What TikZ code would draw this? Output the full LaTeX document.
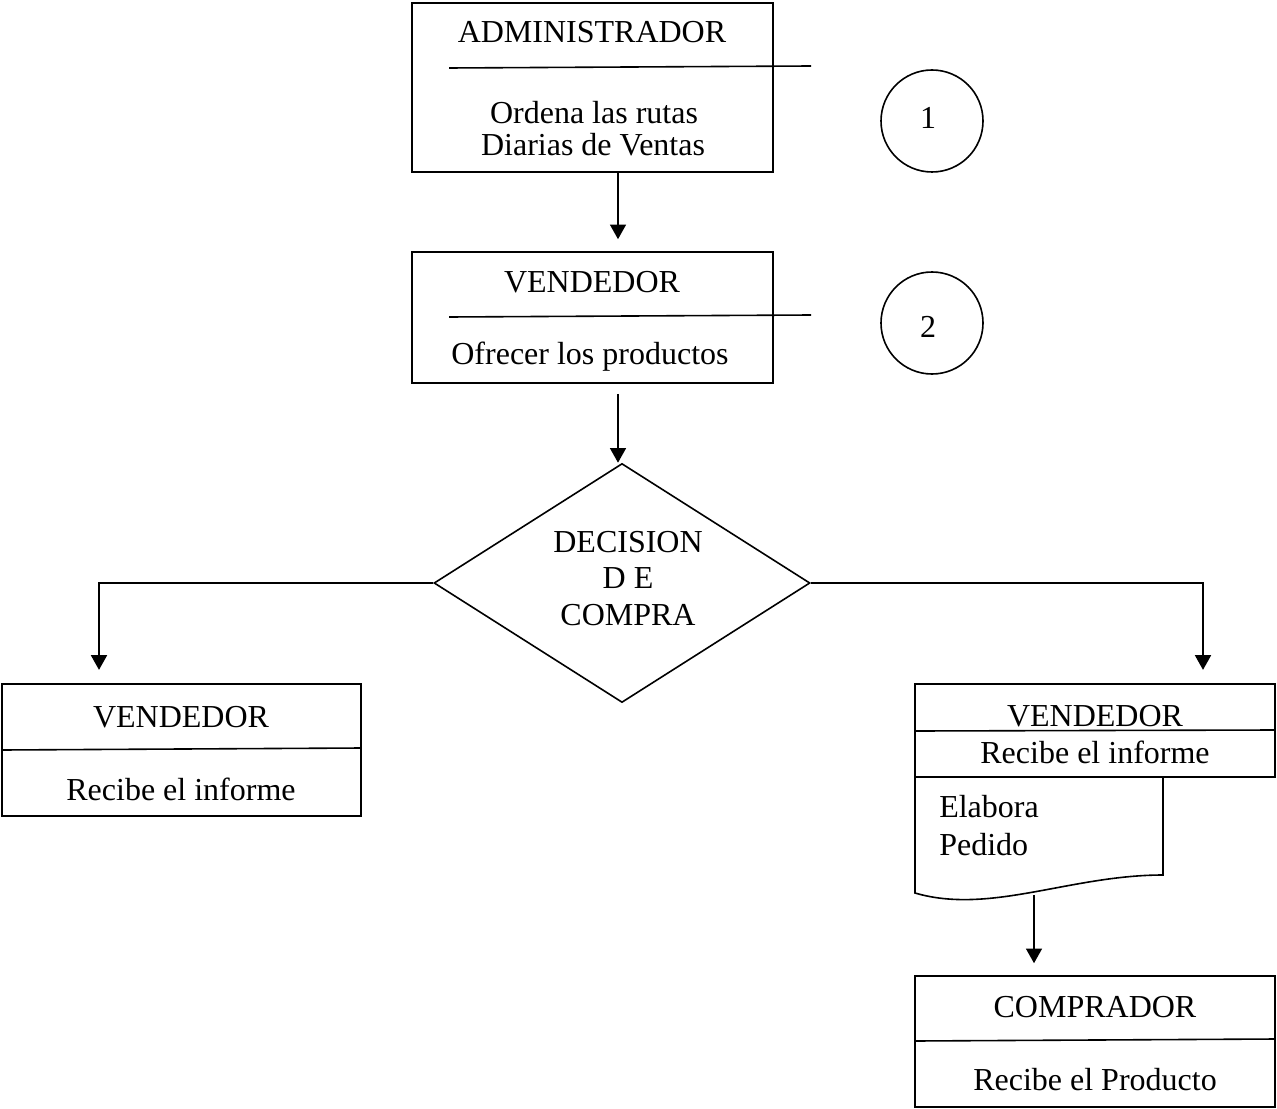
\documentclass[tikz,border=0pt]{standalone}
\usepackage{fontspec}
\setmainfont{Liberation Serif}
\usetikzlibrary{arrows.meta,shapes.geometric}
\begin{document}
\begin{tikzpicture}[x=0.75pt,y=-0.75pt,
  every node/.style={font=\fontsize{24}{28}\selectfont},
  lbl/.style={anchor=base,inner sep=0pt},
  lbll/.style={anchor=base west,inner sep=0pt},
  boxn/.style={draw,line width=1.2pt,rectangle,inner sep=0pt},
  circn/.style={draw,line width=1.2pt,circle,minimum size=76.5pt,inner sep=0pt},
  rule/.style={line width=1.2pt},
  arr/.style={line width=1.2pt,-{Triangle[length=11pt,width=12pt]}}]
\useasboundingbox (0,0) rectangle (1277,1109);
% boxes
\node[boxn,minimum width=270.75pt,minimum height=126.75pt] (admin) at (592.5,87.5) {};
\node[boxn,minimum width=270.75pt,minimum height=98.25pt] (vend1) at (592.5,317.5) {};
\node[boxn,minimum width=269.25pt,minimum height=99pt] (vendL) at (181.5,750) {};
\node[boxn,minimum width=270pt,minimum height=69.75pt] (vendR) at (1095,730.5) {};
\node[boxn,minimum width=270pt,minimum height=98.25pt] (comp) at (1095,1041.5) {};
\node[draw,line width=1.2pt,diamond,minimum width=282pt,minimum height=179.25pt,inner sep=0pt] (dec) at (622,583) {};
\node[circn] (c1) at (932,121) {};
\node[circn] (c2) at (932,323) {};
% dividers
\coordinate (d1a) at (449,68); \coordinate (d1b) at (811,66);
\coordinate (d2a) at (449,317); \coordinate (d2b) at (811,315);
\draw[rule] (d1a) -- (d1b);
\draw[rule] (d2a) -- (d2b);
\draw[rule] (vendL.west |- 0,750) -- (vendL.east |- 0,748);
\draw[rule] (vendR.west |- 0,731) -- (vendR.east |- 0,730);
\draw[rule] (comp.west |- 0,1041) -- (comp.east |- 0,1039);
% document shape
\coordinate (docb) at (1034,895);
\draw[rule] (915,777) -- (1163,777) -- (1163,875)
  .. controls (1070,875) and (990,915) .. (915,893) -- cycle;
% texts
\node[lbl] (t1) at (592,43) {ADMINISTRADOR};
\node[lbl] (t2) at (594,124) {Ordena las rutas};
\node[lbl] (t3) at (593,156) {Diarias de Ventas};
\node[lbl] (t4) at (592,292) {VENDEDOR};
\node[lbl] (t5) at (590,364) {Ofrecer los productos};
\node[lbl] (n1) at (928,129) {1};
\node[lbl] (n2) at (928,337) {2};
\node[lbl] (t6) at (628,552) {DECISION};
\node[lbl] (t7) at (628,588) {D E};
\node[lbl] (t8) at (628,625) {COMPRA};
\node[lbl] (t9) at (181,727) {VENDEDOR};
\node[lbl] (t10) at (181,800) {Recibe el informe};
\node[lbl] (t11) at (1095,726) {VENDEDOR};
\node[lbl] (t12) at (1095,763) {Recibe el informe};
\node[lbll] (t13) at (939,817) {Elabora};
\node[lbll] (t14) at (939,855) {Pedido};
\node[lbl] (t15) at (1095,1017) {COMPRADOR};
\node[lbl] (t16) at (1095,1090) {Recibe el Producto};
% connectors
\coordinate (a1) at (618,0);
\coordinate (jl) at (99,583);
\coordinate (jr) at (1203,583);
\draw[arr] (admin.south -| a1) -- ([yshift=9pt]vend1.north -| a1);
\draw[arr] ([yshift=-7.5pt]vend1.south -| a1) -- (dec.north -| a1);
\draw[arr] (dec.west) -- (jl) -- ([yshift=10pt]vendL.north -| jl);
\draw[arr] (dec.east) -- (jr) -- ([yshift=10pt]vendR.north -| jr);
\draw[arr] (docb) -- ([yshift=9pt]comp.north -| docb);
\end{tikzpicture}
\end{document}
